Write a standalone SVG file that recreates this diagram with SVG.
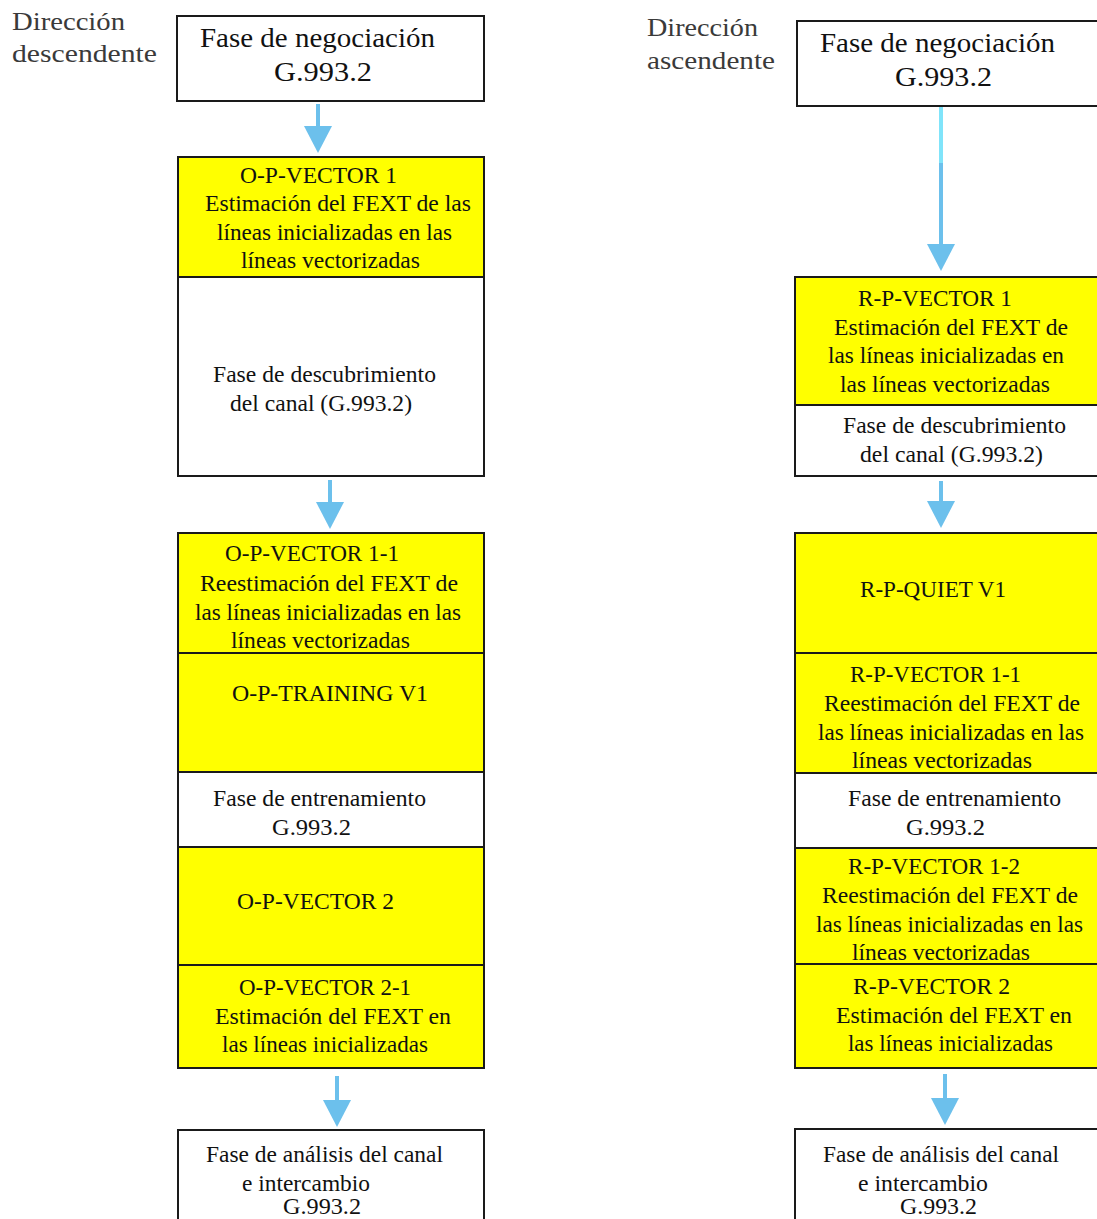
<svg xmlns="http://www.w3.org/2000/svg" width="1097" height="1219" viewBox="0 0 1097 1219">
  <style>
    .box { stroke: #1a1a1a; stroke-width: 2; }
    .y { fill: #ffff00; }
    .w { fill: #ffffff; }
    text { font-family: "Liberation Serif", "Times New Roman", serif; fill: #111; }
    .t { font-size: 23px; }
    .h { font-size: 27px; }
    .lbl { font-size: 26px; fill: #3a3a3a; }
    .shaft { stroke: #6cc0ec; stroke-width: 4; fill: none; marker-end: url(#head); }
  </style>
  <defs>
    <!-- arrowhead: base sits on the shaft end, tip points along the line -->
    <marker id="head" markerUnits="userSpaceOnUse" markerWidth="28" markerHeight="28" viewBox="0 0 28 28" refX="0" refY="14" orient="auto">
      <path d="M0,0 L27,14 L0,28 Z" fill="#6cc0ec"/>
    </marker>
  </defs>
  <rect width="1097" height="1219" fill="#ffffff"/>

  <!-- direction labels -->
  <g id="label-down">
    <text class="lbl" x="12" y="30" textLength="113" lengthAdjust="spacingAndGlyphs">Dirección</text>
    <text class="lbl" x="12" y="62" textLength="145" lengthAdjust="spacingAndGlyphs">descendente</text>
  </g>
  <g id="label-up">
    <text class="lbl" x="647" y="36" textLength="111" lengthAdjust="spacingAndGlyphs">Dirección</text>
    <text class="lbl" x="647" y="69" textLength="128" lengthAdjust="spacingAndGlyphs">ascendente</text>
  </g>

  <!-- connectors -->
  <g id="connectors">
    <line class="shaft" x1="318" y1="104" x2="318" y2="126"/>
    <line class="shaft" x1="330" y1="480" x2="330" y2="502"/>
    <line class="shaft" x1="337" y1="1076" x2="337" y2="1100"/>
    <line x1="941" y1="107" x2="941" y2="165" stroke="#80e4fa" stroke-width="4"/>
    <line class="shaft" x1="941" y1="163" x2="941" y2="244"/>
    <line class="shaft" x1="941" y1="481" x2="941" y2="501"/>
    <line class="shaft" x1="945" y1="1074" x2="945" y2="1098"/>
  </g>

  <!-- downstream column -->
  <g id="o-negociacion">
    <rect class="box w" x="177" y="16" width="307" height="85"/>
    <text class="h" x="200" y="47" textLength="235" lengthAdjust="spacingAndGlyphs">Fase de negociación</text>
    <text class="h" x="274" y="81" textLength="98" lengthAdjust="spacingAndGlyphs">G.993.2</text>
  </g>
  <g id="o-p-vector-1">
    <rect class="box y" x="178" y="157" width="306" height="120"/>
    <text class="t" x="240" y="183" textLength="157" lengthAdjust="spacingAndGlyphs">O-P-VECTOR 1</text>
    <text class="t" x="205" y="211" textLength="266" lengthAdjust="spacingAndGlyphs">Estimación del FEXT de las</text>
    <text class="t" x="217" y="240" textLength="235" lengthAdjust="spacingAndGlyphs">líneas inicializadas en las</text>
    <text class="t" x="241" y="268" textLength="179" lengthAdjust="spacingAndGlyphs">líneas vectorizadas</text>
  </g>
  <g id="o-descubrimiento">
    <rect class="box w" x="178" y="277" width="306" height="199"/>
    <text class="t" x="213" y="382" textLength="223" lengthAdjust="spacingAndGlyphs">Fase de descubrimiento</text>
    <text class="t" x="230" y="411" textLength="182" lengthAdjust="spacingAndGlyphs">del canal (G.993.2)</text>
  </g>
  <g id="o-p-vector-1-1">
    <rect class="box y" x="178" y="533" width="306" height="120"/>
    <text class="t" x="225" y="561" textLength="174" lengthAdjust="spacingAndGlyphs">O-P-VECTOR 1-1</text>
    <text class="t" x="200" y="591" textLength="258" lengthAdjust="spacingAndGlyphs">Reestimación del FEXT de</text>
    <text class="t" x="195" y="620" textLength="266" lengthAdjust="spacingAndGlyphs">las líneas inicializadas en las</text>
    <text class="t" x="231" y="648" textLength="179" lengthAdjust="spacingAndGlyphs">líneas vectorizadas</text>
  </g>
  <g id="o-p-training-v1">
    <rect class="box y" x="178" y="653" width="306" height="119"/>
    <text class="t" x="232" y="701" textLength="196" lengthAdjust="spacingAndGlyphs">O-P-TRAINING V1</text>
  </g>
  <g id="o-entrenamiento">
    <rect class="box w" x="178" y="772" width="306" height="75"/>
    <text class="t" x="213" y="806" textLength="213" lengthAdjust="spacingAndGlyphs">Fase de entrenamiento</text>
    <text class="t" x="272" y="835" textLength="79" lengthAdjust="spacingAndGlyphs">G.993.2</text>
  </g>
  <g id="o-p-vector-2">
    <rect class="box y" x="178" y="847" width="306" height="118"/>
    <text class="t" x="237" y="909" textLength="157" lengthAdjust="spacingAndGlyphs">O-P-VECTOR 2</text>
  </g>
  <g id="o-p-vector-2-1">
    <rect class="box y" x="178" y="965" width="306" height="103"/>
    <text class="t" x="239" y="995" textLength="172" lengthAdjust="spacingAndGlyphs">O-P-VECTOR 2-1</text>
    <text class="t" x="215" y="1024" textLength="236" lengthAdjust="spacingAndGlyphs">Estimación del FEXT en</text>
    <text class="t" x="222" y="1052" textLength="206" lengthAdjust="spacingAndGlyphs">las líneas inicializadas</text>
  </g>
  <g id="o-analisis">
    <rect class="box w" x="178" y="1130" width="306" height="100"/>
    <text class="t" x="206" y="1162" textLength="237" lengthAdjust="spacingAndGlyphs">Fase de análisis del canal</text>
    <text class="t" x="242" y="1191" textLength="128" lengthAdjust="spacingAndGlyphs">e intercambio</text>
    <text class="t" x="283" y="1214" textLength="78" lengthAdjust="spacingAndGlyphs">G.993.2</text>
  </g>

  <!-- upstream column -->
  <g id="r-negociacion">
    <rect class="box w" x="797" y="21" width="310" height="85"/>
    <text class="h" x="820" y="52" textLength="235" lengthAdjust="spacingAndGlyphs">Fase de negociación</text>
    <text class="h" x="895" y="86" textLength="97" lengthAdjust="spacingAndGlyphs">G.993.2</text>
  </g>
  <g id="r-p-vector-1">
    <rect class="box y" x="795" y="277" width="312" height="128"/>
    <text class="t" x="858" y="306" textLength="154" lengthAdjust="spacingAndGlyphs">R-P-VECTOR 1</text>
    <text class="t" x="834" y="335" textLength="234" lengthAdjust="spacingAndGlyphs">Estimación del FEXT de</text>
    <text class="t" x="828" y="363" textLength="236" lengthAdjust="spacingAndGlyphs">las líneas inicializadas en</text>
    <text class="t" x="840" y="392" textLength="210" lengthAdjust="spacingAndGlyphs">las líneas vectorizadas</text>
  </g>
  <g id="r-descubrimiento">
    <rect class="box w" x="795" y="405" width="312" height="71"/>
    <text class="t" x="843" y="433" textLength="223" lengthAdjust="spacingAndGlyphs">Fase de descubrimiento</text>
    <text class="t" x="860" y="462" textLength="183" lengthAdjust="spacingAndGlyphs">del canal (G.993.2)</text>
  </g>
  <g id="r-p-quiet-v1">
    <rect class="box y" x="795" y="533" width="312" height="120"/>
    <text class="t" x="860" y="597" textLength="146" lengthAdjust="spacingAndGlyphs">R-P-QUIET V1</text>
  </g>
  <g id="r-p-vector-1-1">
    <rect class="box y" x="795" y="653" width="312" height="120"/>
    <text class="t" x="850" y="682" textLength="171" lengthAdjust="spacingAndGlyphs">R-P-VECTOR 1-1</text>
    <text class="t" x="824" y="711" textLength="256" lengthAdjust="spacingAndGlyphs">Reestimación del FEXT de</text>
    <text class="t" x="818" y="740" textLength="266" lengthAdjust="spacingAndGlyphs">las líneas inicializadas en las</text>
    <text class="t" x="852" y="768" textLength="180" lengthAdjust="spacingAndGlyphs">líneas vectorizadas</text>
  </g>
  <g id="r-entrenamiento">
    <rect class="box w" x="795" y="773" width="312" height="75"/>
    <text class="t" x="848" y="806" textLength="213" lengthAdjust="spacingAndGlyphs">Fase de entrenamiento</text>
    <text class="t" x="906" y="835" textLength="79" lengthAdjust="spacingAndGlyphs">G.993.2</text>
  </g>
  <g id="r-p-vector-1-2">
    <rect class="box y" x="795" y="848" width="312" height="116"/>
    <text class="t" x="848" y="874" textLength="172" lengthAdjust="spacingAndGlyphs">R-P-VECTOR 1-2</text>
    <text class="t" x="822" y="903" textLength="256" lengthAdjust="spacingAndGlyphs">Reestimación del FEXT de</text>
    <text class="t" x="816" y="932" textLength="267" lengthAdjust="spacingAndGlyphs">las líneas inicializadas en las</text>
    <text class="t" x="852" y="960" textLength="178" lengthAdjust="spacingAndGlyphs">líneas vectorizadas</text>
  </g>
  <g id="r-p-vector-2">
    <rect class="box y" x="795" y="964" width="312" height="104"/>
    <text class="t" x="853" y="994" textLength="157" lengthAdjust="spacingAndGlyphs">R-P-VECTOR 2</text>
    <text class="t" x="836" y="1023" textLength="236" lengthAdjust="spacingAndGlyphs">Estimación del FEXT en</text>
    <text class="t" x="848" y="1051" textLength="205" lengthAdjust="spacingAndGlyphs">las líneas inicializadas</text>
  </g>
  <g id="r-analisis">
    <rect class="box w" x="795" y="1129" width="312" height="100"/>
    <text class="t" x="823" y="1162" textLength="236" lengthAdjust="spacingAndGlyphs">Fase de análisis del canal</text>
    <text class="t" x="858" y="1191" textLength="130" lengthAdjust="spacingAndGlyphs">e intercambio</text>
    <text class="t" x="900" y="1214" textLength="77" lengthAdjust="spacingAndGlyphs">G.993.2</text>
  </g>
</svg>
